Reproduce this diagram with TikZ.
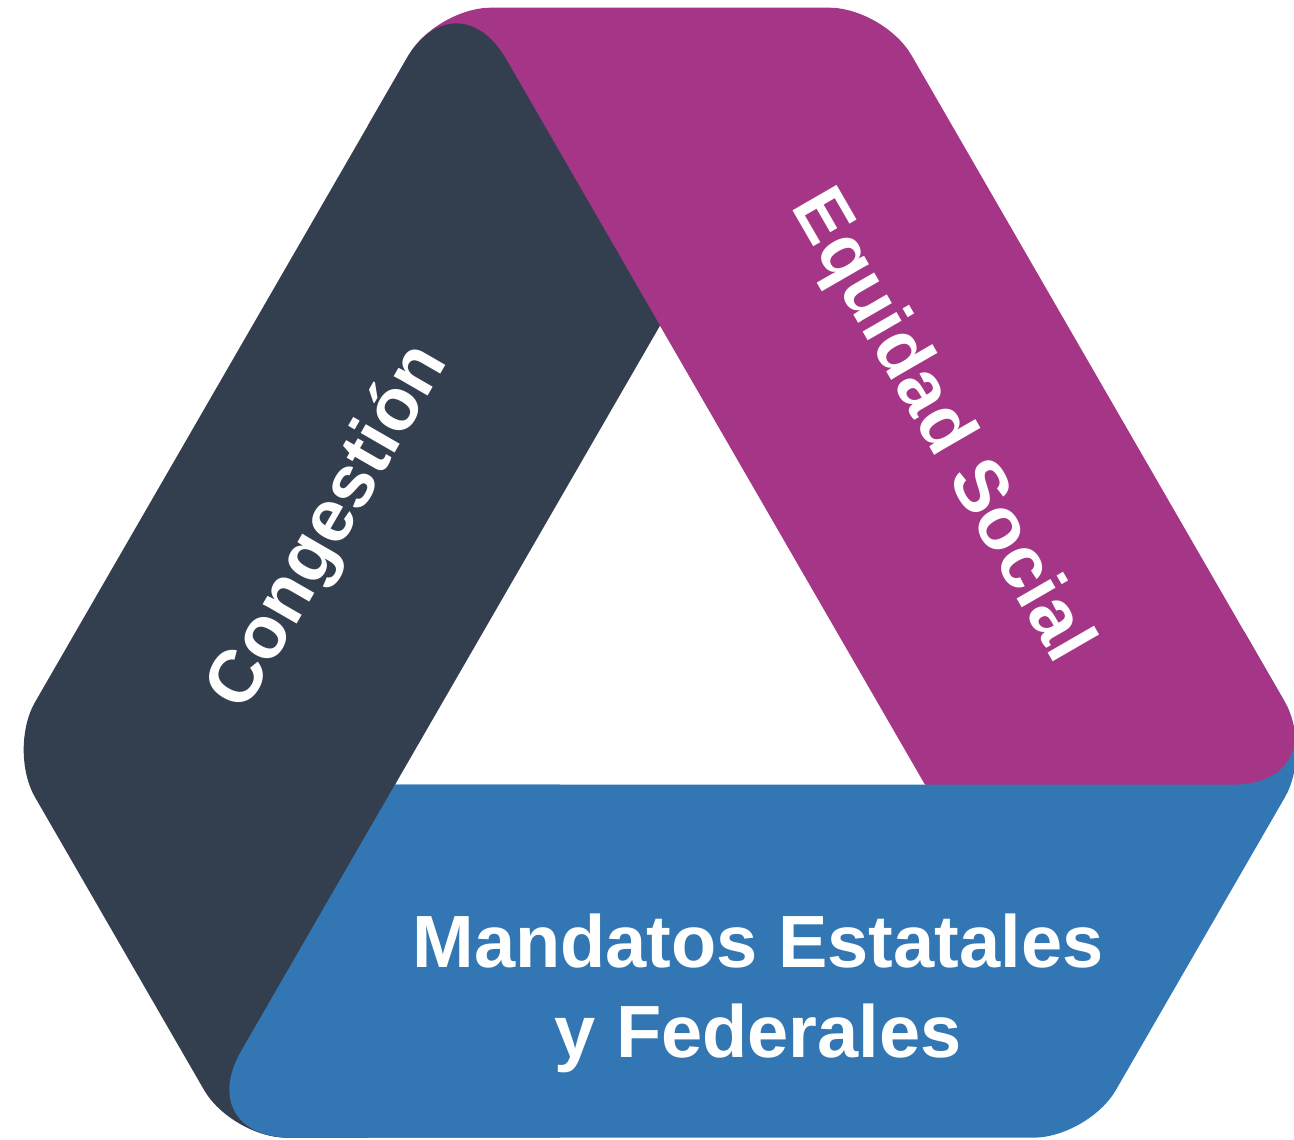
\documentclass[tikz,border=0pt]{standalone}
\usepackage{fontspec}
\setmainfont{Liberation Sans}
\definecolor{bandDark}{HTML}{333F4F}
\definecolor{bandPurple}{HTML}{A53587}
\definecolor{bandBlue}{HTML}{3277B3}
\tikzset{
  bandlabel/.style={text=white, inner sep=0pt, align=center,
    font=\fontsize{74}{90}\selectfont\bfseries}
}
%% one band, as it lies at the bottom; the others are turned by 120 and 240
\newcommand{\bandpath}{(-20,-506) [rounded corners=100] -- (-468.8,-506) -- (-367,-329.5)
  [sharp corners] -- (-265,-153) -- (265,-153) -- (584.3,0) -- (607.4,-40)
  [rounded corners=55] -- (652.4,-118) -- (428.4,-506) -- cycle}
\begin{document}
\begin{tikzpicture}[x=1pt,y=1pt]
  \useasboundingbox (-660,-508.33) rectangle (634,631.67);
  %% bands
  \fill[bandBlue] \bandpath;
  \fill[bandPurple,rotate=120] \bandpath;
  \fill[bandDark,rotate=240] \bandpath;
  %% blue end lies over the dark band
  \begin{scope}
    \clip (-700,-700) rectangle (-100,-153);
    \fill[bandBlue] \bandpath;
  \end{scope}
  %% labels
  \node[bandlabel,rotate=60] (congestion) at (-330,104) {Congestión};
  \node[bandlabel,rotate=-60] (equidad) at (280,205) {Equidad Social};
  \node[bandlabel] (mandatos) at (98,-362) {Mandatos Estatales\\y Federales};
\end{tikzpicture}
\end{document}
